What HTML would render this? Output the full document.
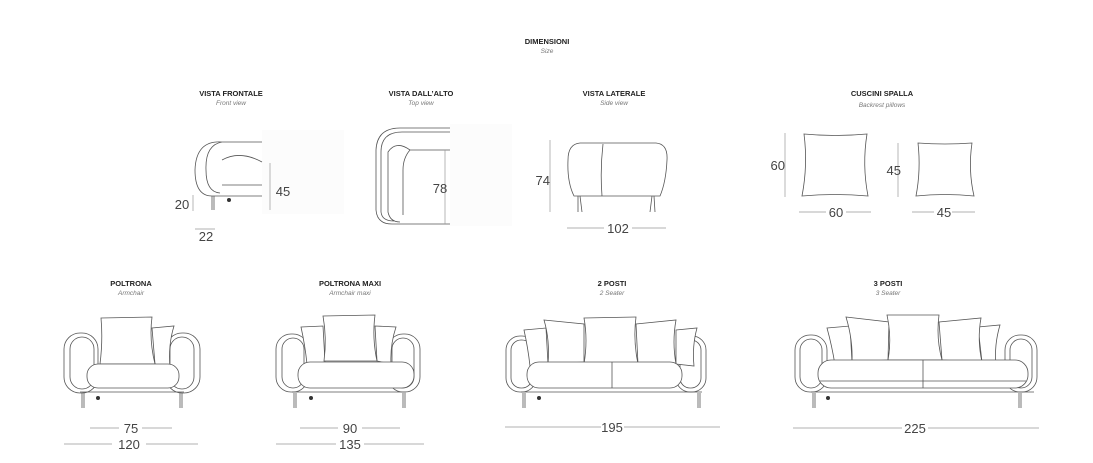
<!DOCTYPE html>
<html><head><meta charset="utf-8"><style>
html,body{margin:0;padding:0;background:#fff}
svg{display:block}
.t{font-family:"Liberation Sans",sans-serif;font-weight:bold;font-size:7.5px;fill:#222;text-anchor:middle}
.s{font-family:"Liberation Sans",sans-serif;font-style:italic;font-size:6.5px;fill:#777;text-anchor:middle}
.d{font-family:"Liberation Sans",sans-serif;font-size:13px;fill:#444;text-anchor:middle}
.l{fill:none;stroke:#555;stroke-width:0.8}
.l .p{fill:#fff}
.g{fill:none;stroke:#999;stroke-width:0.7}
</style></head><body>
<svg width="1093" height="463" viewBox="0 0 1093 463" xmlns="http://www.w3.org/2000/svg">
<text class="t" x="547" y="44">DIMENSIONI</text><text class="s" x="547" y="53">Size</text>
<text class="t" x="231" y="96">VISTA FRONTALE</text><text class="s" x="231" y="105">Front view</text>
<text class="t" x="421" y="96">VISTA DALL’ALTO</text><text class="s" x="421" y="105">Top view</text>
<text class="t" x="614" y="96">VISTA LATERALE</text><text class="s" x="614" y="105">Side view</text>
<text class="t" x="882" y="96">CUSCINI SPALLA</text><text class="s" x="882" y="107">Backrest pillows</text>
<text class="t" x="131" y="286">POLTRONA</text><text class="s" x="131" y="295">Armchair</text>
<text class="t" x="350" y="286">POLTRONA MAXI</text><text class="s" x="350" y="295">Armchair maxi</text>
<text class="t" x="612" y="286">2 POSTI</text><text class="s" x="612" y="295">2 Seater</text>
<text class="t" x="888" y="286">3 POSTI</text><text class="s" x="888" y="295">3 Seater</text>

<!-- front view -->
<rect x="262" y="130" width="82" height="84" fill="#fcfcfc"/>
<path class="l" d="M222 142 L262 142 M222 142 Q196 140 195 170 Q195 196 212 196 L262 196 M222 142 Q205 145 206 170 Q206 192 220 193 M222 160 Q240 150 262 162 M222 185 L262 185 M212 196 L212 210 M214 196 L214 210"/>
<circle cx="229" cy="200" r="2" fill="#333"/>
<path class="g" d="M270 163 V210 M193 195 V211 M195 229 H215"/>
<text class="d" x="283" y="196">45</text><text class="d" x="182" y="209">20</text><text class="d" x="206" y="241">22</text>

<!-- top view -->
<rect x="450" y="124" width="62" height="102" fill="#fcfcfc"/>
<path class="l" d="M450 128 L400 128 Q377 128 376 150 L376 210 Q377 224 392 224 L450 224 M450 132 L402 132 Q381 132 381 152 L381 212 Q382 221 394 221 M410 150 L450 150 M410 150 Q396 140 388 152 L388 212 Q390 222 400 222 M410 150 Q403 158 403 170 L403 215"/>
<path class="g" d="M445 150 V224"/>
<text class="d" x="440" y="193">78</text>

<!-- side view -->
<path class="l" d="M580 143 L656 143 Q668 144 667 160 Q666 182 660 196 L574 196 Q567 182 568 160 Q568 144 580 143 M603 144 Q600 170 602 196 M578 196 L578 212 M580 196 L582 212 M652 196 L650 212 M654 196 L655 212"/>
<path class="g" d="M550 140 V212 M567 228 H604 M632 228 H666"/>
<text class="d" x="550" y="185" style="text-anchor:end">74</text>
<text class="d" x="618" y="233">102</text>

<!-- pillows -->
<path class="l" d="M804 134 Q835 137 867 134 Q862 165 868 196 Q835 193 802 196 Q808 165 804 134 Z"/>
<path class="l" d="M918 143 Q945 145 972 143 Q968 170 974 196 Q945 193 916 196 Q921 170 918 143 Z"/>
<path class="g" d="M785 133 V197 M898 143 V197 M799 212 H826 M846 212 H871 M912 212 H934 M952 212 H975"/>
<text class="d" x="785" y="170" style="text-anchor:end">60</text>
<text class="d" x="901" y="175" style="text-anchor:end">45</text>
<text class="d" x="836" y="217">60</text><text class="d" x="944" y="217">45</text>

<!-- poltrona -->
<g class="l">
<path d="M80 392 H184 M82 393 V408 M84 393 V408 M180 393 V408 M182 393 V408"/>
<rect x="64" y="333" width="34" height="60" rx="16"/><rect x="70" y="337" width="24" height="52" rx="12"/>
<rect x="166" y="333" width="34" height="60" rx="16"/><rect x="170" y="337" width="24" height="52" rx="12"/>
<path class="p" d="M152 328 L174 326 Q168 345 170 368 L155 364 Z"/>
<path class="p" d="M101 318 L152 317 Q149 340 155 364 L100 364 Q103 340 101 318 Z"/>
<rect class="p" x="87" y="364" width="92" height="24" rx="11"/>
</g>
<circle cx="98" cy="398" r="2" fill="#333"/>
<path class="g" d="M90 428 H119 M142 428 H172 M64 444 H112 M146 444 H198"/>
<text class="d" x="131" y="433">75</text><text class="d" x="129" y="449">120</text>

<!-- maxi -->
<g class="l">
<path d="M292 392 H406 M294 393 V408 M296 393 V408 M403 393 V408 M405 393 V408"/>
<rect x="276" y="334" width="32" height="58" rx="15"/><rect x="282" y="338" width="22" height="50" rx="11"/>
<rect x="388" y="334" width="32" height="58" rx="15"/><rect x="392" y="338" width="22" height="50" rx="11"/>
<path class="p" d="M301 327 L323 326 L325 362 L307 364 Q305 345 301 327 Z"/>
<path class="p" d="M375 326 L396 327 Q390 345 391 364 L377 361 Z"/>
<path class="p" d="M323 316 L375 315 Q372 338 377 361 L324 361 Q327 338 323 316 Z"/>
<rect class="p" x="298" y="362" width="116" height="26" rx="12"/>
</g>
<circle cx="311" cy="398" r="2" fill="#333"/>
<path class="g" d="M300 428 H338 M362 428 H400 M276 444 H336 M364 444 H424"/>
<text class="d" x="350" y="433">90</text><text class="d" x="350" y="449">135</text>

<!-- 2 posti -->
<g class="l">
<path d="M521 392 H702 M523 393 V408 M525 393 V408 M698 393 V408 M700 393 V408"/>
<rect x="506" y="336" width="30" height="56" rx="14"/><rect x="511" y="340" width="21" height="48" rx="10"/>
<rect x="676" y="336" width="30" height="56" rx="14"/><rect x="680" y="340" width="21" height="48" rx="10"/>
<path class="p" d="M524 330 L546 328 L548 364 L530 366 Q528 348 524 330 Z"/>
<path class="p" d="M676 330 L697 328 Q692 346 694 366 L676 364 Z"/>
<path class="p" d="M544 320 L584 324 L584 362 L548 364 Q550 340 544 320 Z"/>
<path class="p" d="M636 324 L676 320 Q672 342 676 364 L638 364 Z"/>
<path class="p" d="M584 318 L636 317 Q633 340 638 364 L584 364 Q588 340 584 318 Z"/>
<rect class="p" x="527" y="362" width="155" height="26" rx="12"/><path d="M612 362 V388"/>
</g>
<circle cx="539" cy="398" r="2" fill="#333"/>
<path class="g" d="M505 427 H601 M624 427 H720"/>
<text class="d" x="612" y="432">195</text>

<!-- 3 posti -->
<g class="l">
<path d="M811 392 H1034 M813 393 V408 M815 393 V408 M1019 393 V408 M1021 393 V408"/>
<rect x="795" y="335" width="32" height="57" rx="15"/><rect x="800" y="339" width="22" height="49" rx="11"/>
<rect x="1005" y="335" width="32" height="57" rx="15"/><rect x="1010" y="339" width="22" height="49" rx="11"/>
<path class="p" d="M827 328 L850 326 L852 362 L835 365 Q832 346 827 328 Z"/>
<path class="p" d="M978 327 L1000 325 Q994 345 996 365 L982 362 Z"/>
<path class="p" d="M846 317 L889 322 L888 360 L852 362 Q853 340 846 317 Z"/>
<path class="p" d="M939 322 L981 318 Q977 340 982 362 L942 360 Z"/>
<path class="p" d="M887 315 L939 315 Q936 338 942 360 L888 360 Q892 338 887 315 Z"/>
<rect class="p" x="818" y="360" width="210" height="28" rx="13"/><path d="M923 360 V388 M820 381 H1026"/>
</g>
<circle cx="828" cy="398" r="2" fill="#333"/>
<path class="g" d="M793 428 H902 M928 428 H1039"/>
<text class="d" x="915" y="433">225</text>
</svg>
</body></html>
